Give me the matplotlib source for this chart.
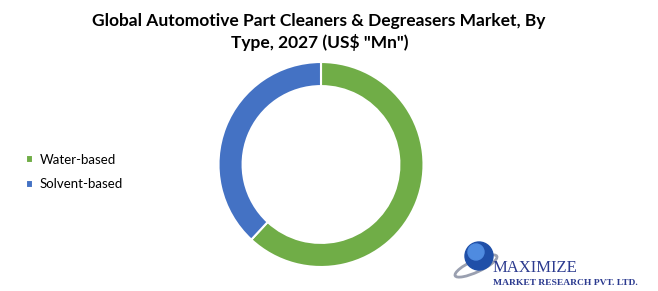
import matplotlib
matplotlib.use("Agg")
import matplotlib.pyplot as plt
from matplotlib.patches import Circle, Ellipse

categories = ["Water-based", "Solvent-based"]
values = [61.9, 38.1]
colors = ["#70AD47", "#4472C4"]
title_lines = ["Global Automotive Part Cleaners & Degreasers Market, By", 'Type, 2027 (US$ "Mn")']

W, H = 658, 291
fig = plt.figure(figsize=(W / 100, H / 100), dpi=100)
fig.patch.set_facecolor("white")

# donut axes: center (321,164.5) px, radius 102.5 px
cx, cy, r = 321, 164.5, 102.5
ax = fig.add_axes([(cx - r) / W, (H - cy - r) / H, 2 * r / W, 2 * r / H])
wedges, _ = ax.pie(values, colors=colors, startangle=90, counterclock=False,
                   radius=1.0, wedgeprops=dict(width=0.235, edgecolor="white", linewidth=1.5))
ax.set_xlim(-1, 1)
ax.set_ylim(-1, 1)
ax.set_aspect("equal")
ax.axis("off")

for line, (xc, yb) in zip(title_lines, [(318.5, 26), (319.5, 48)]):
    fig.text(xc / W, 1 - yb / H, line, ha="center", va="baseline", fontsize=12.5,
             fontweight="bold", family="Lato", color="#000000")

leg = fig.legend(wedges, categories, loc="upper left", bbox_to_anchor=(14 / W, 1 - 142 / H),
                 frameon=False, handlelength=0.55, handleheight=0.55, handletextpad=0.5,
                 labelspacing=0.95, prop=dict(family="Lato", size=9.5))
for t in leg.get_texts():
    t.set_color("#000000")

# logo
lax = fig.add_axes([0, 0, 1, 1], facecolor="none")
lax.set_xlim(0, W)
lax.set_ylim(H, 0)
lax.axis("off")
lax.add_patch(Ellipse((476, 266), 46, 12, angle=-25, fill=False, ec="#9aa0b0", lw=2))
lax.add_patch(Circle((479, 256), 14, color="#1f4fa8"))
lax.add_patch(Circle((476, 252), 8, color="#4f8be0"))
lax.text(493, 272, "MAXIMIZE", fontsize=12, family="Liberation Serif", color="#2b3a8f",
         va="baseline", ha="left")
lax.text(493, 285, "MARKET RESEARCH PVT. LTD.", fontsize=6.8, family="Liberation Serif",
         color="#2b3a8f", va="baseline", ha="left", fontweight="bold")

fig.savefig("out.png", dpi=100, facecolor="white")
